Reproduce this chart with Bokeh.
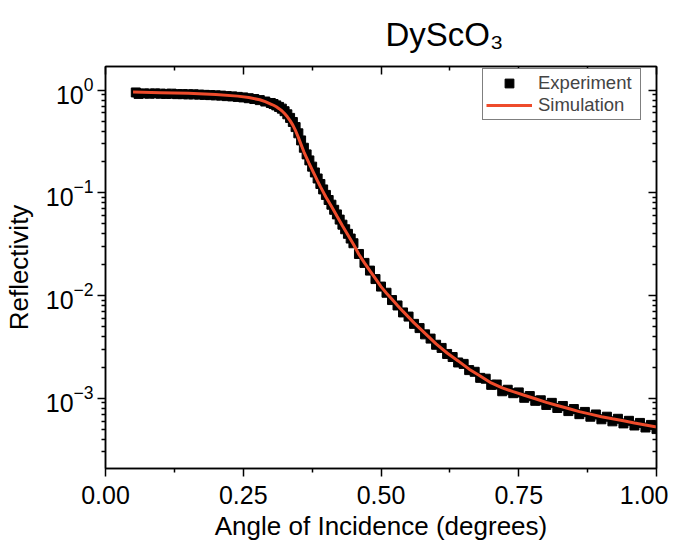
from bokeh.plotting import figure
from bokeh.models import (Range1d, LinearAxis, LogAxis, FixedTicker, NumeralTickFormatter,
                          CustomJSTickFormatter, Legend, LegendItem)
from bokeh.embed import file_html
from bokeh.resources import INLINE

# ---- data ----
title_text = "DyScO\u2083"

exp_angle = [0.055, 0.06, 0.07, 0.08, 0.09, 0.10, 0.11, 0.12, 0.13, 0.14, 0.15, 0.16, 0.17, 0.18,
             0.19, 0.20, 0.21, 0.22, 0.23, 0.24, 0.25, 0.26, 0.27, 0.28, 0.29,
             0.30, 0.305, 0.31, 0.315, 0.32, 0.325, 0.33, 0.335, 0.34, 0.345, 0.35, 0.355, 0.36,
             0.365, 0.37, 0.375, 0.38, 0.385, 0.39, 0.395, 0.40, 0.405, 0.41, 0.415, 0.42, 0.425,
             0.43, 0.435, 0.44, 0.445, 0.45,
             0.46, 0.47, 0.48, 0.49, 0.50, 0.51, 0.52, 0.53, 0.54, 0.55, 0.56, 0.57, 0.58, 0.59,
             0.60, 0.61, 0.62, 0.63, 0.64, 0.65, 0.66, 0.67, 0.68, 0.69, 0.70, 0.71, 0.72, 0.73,
             0.74, 0.75, 0.76, 0.77, 0.78, 0.79, 0.80, 0.81, 0.82, 0.83, 0.84, 0.85, 0.86, 0.87,
             0.88, 0.89, 0.90, 0.91, 0.92, 0.93, 0.94, 0.95, 0.96, 0.97, 0.98, 0.99, 1.00]
exp_reflectivity = [0.95, 0.92, 0.93, 0.925, 0.93, 0.925, 0.92, 0.925, 0.915, 0.915, 0.91, 0.91,
                    0.905, 0.90, 0.895, 0.89, 0.885, 0.875, 0.87, 0.86, 0.85, 0.835, 0.82, 0.80,
                    0.775,
                    0.750, 0.733, 0.711, 0.687, 0.661, 0.624, 0.582, 0.537, 0.490, 0.437, 0.380,
                    0.324, 0.275, 0.237, 0.207, 0.180, 0.158, 0.138, 0.122, 0.108, 0.0955, 0.0852,
                    0.0767, 0.0684, 0.0617, 0.0549, 0.0490, 0.0442, 0.0399, 0.0359, 0.0323,
                    0.0254, 0.0208, 0.0175, 0.01447, 0.01223, 0.01065, 0.00904, 0.00801, 0.00685,
                    0.00624, 0.00530, 0.00482, 0.00419, 0.00381, 0.00332, 0.00309, 0.00270,
                    0.00252, 0.00223, 0.00216, 0.00188, 0.00181, 0.00158, 0.00155,
                    0.00135, 0.00136, 0.00117, 0.00121, 0.00112, 0.00114, 0.00101, 0.00105,
                    0.000944, 0.000955, 0.000861, 0.000902, 0.000804, 0.000841, 0.000750,
                    0.000785, 0.000700, 0.000736, 0.000661, 0.000695, 0.000624, 0.000661,
                    0.000596, 0.000631, 0.000569, 0.000603, 0.000543, 0.000575, 0.000519,
                    0.000550, 0.000501]

sim_angle = [0.05, 0.10, 0.15, 0.20, 0.24, 0.26, 0.28, 0.29, 0.30, 0.305, 0.31, 0.315, 0.32,
             0.325, 0.33, 0.335, 0.34, 0.345, 0.35, 0.355, 0.36, 0.365, 0.37, 0.375, 0.38,
             0.385, 0.39, 0.40, 0.41, 0.42, 0.43, 0.44, 0.45, 0.46, 0.47, 0.48, 0.49, 0.50,
             0.51, 0.52, 0.53, 0.54, 0.55, 0.56, 0.57, 0.58, 0.59, 0.60, 0.62, 0.64, 0.66,
             0.68, 0.70, 0.72, 0.74, 0.76, 0.78, 0.80, 0.82, 0.84, 0.86, 0.88, 0.90, 0.92,
             0.94, 0.96, 0.98, 1.00]
sim_reflectivity = [0.959, 0.946, 0.933, 0.908, 0.875, 0.847, 0.807, 0.773, 0.733, 0.713, 0.689,
                    0.661, 0.631, 0.592, 0.550, 0.505, 0.457, 0.403, 0.347, 0.295, 0.251, 0.219,
                    0.191, 0.168, 0.148, 0.130, 0.115, 0.0912, 0.0742, 0.0596, 0.0479, 0.0389,
                    0.0316, 0.0251, 0.0208, 0.0174, 0.0146, 0.01223, 0.01052, 0.00919, 0.00801,
                    0.00701, 0.00617, 0.00542, 0.00482, 0.00428, 0.00381, 0.00339, 0.00276,
                    0.00231, 0.00192, 0.00165, 0.00141, 0.00126, 0.00116, 0.00107, 0.000989,
                    0.000912, 0.000851, 0.000794, 0.000741, 0.000700, 0.000661, 0.000631,
                    0.000603, 0.000575, 0.000550, 0.000525]

x_ticks = [0.0, 0.25, 0.5, 0.75, 1.0]
x_minor = [0.125, 0.375, 0.625, 0.875]
y_ticks = [1e-3, 1e-2, 1e-1, 1.0]
y_minor = [m * d for d in (1e-4, 1e-3, 1e-2, 1e-1) for m in range(2, 10)]

FONT = "Liberation Sans"
RED = "#EE4B2B"

p = figure(frame_width=551, frame_height=402, y_axis_type="log",
           x_range=Range1d(0, 1), y_range=Range1d(2.07e-4, 1.7),
           output_backend="svg", toolbar_location=None,
           min_border_left=90, min_border_right=12, min_border_top=66, min_border_bottom=71)
p.grid.visible = False
p.outline_line_color = "black"
p.outline_line_width = 1.5
p.background_fill_color = "white"
p.border_fill_color = "white"

p.title.text = title_text
p.title.align = "left"
p.title.offset = 280
p.title.standoff = 27
p.title.text_font = FONT
p.title.text_font_size = "33px"
p.title.text_font_style = "normal"
p.title.text_color = "black"

exp_r = p.scatter(exp_angle, exp_reflectivity, marker="square", size=9,
                  fill_color="black", line_color="black")
sim_r = p.line(sim_angle, sim_reflectivity, line_color=RED, line_width=3)

xa = p.xaxis[0]
xa.ticker = FixedTicker(ticks=x_ticks, minor_ticks=x_minor)
xa.formatter = NumeralTickFormatter(format="0.00")
xa.axis_label = "Angle of Incidence (degrees)"
ya = p.yaxis[0]
ya.ticker = FixedTicker(ticks=y_ticks, minor_ticks=y_minor)
ya.axis_label = "Reflectivity"

for ax in (xa, ya):
    ax.axis_line_width = 1.5
    ax.major_tick_line_width = 1.5
    ax.minor_tick_line_width = 1.5
    ax.major_tick_in = 0
    ax.major_tick_out = 8
    ax.minor_tick_in = 0
    ax.minor_tick_out = 4
    ax.major_label_text_font = FONT
    ax.major_label_text_font_size = "25px"
    ax.major_label_text_color = "black"
    ax.axis_label_text_font = FONT
    ax.axis_label_text_font_size = "26px"
    ax.axis_label_text_font_style = "normal"
    ax.axis_label_text_color = "black"
xa.major_label_standoff = 9
xa.axis_label_standoff = 4
ya.major_label_standoff = 4
ya.axis_label_standoff = 9

blank = CustomJSTickFormatter(code="return ''")
top = LinearAxis(ticker=FixedTicker(ticks=x_ticks, minor_ticks=x_minor), formatter=blank,
                 major_label_text_font_size="2px", major_label_standoff=0,
                 major_tick_in=8, major_tick_out=0, minor_tick_in=4, minor_tick_out=0,
                 axis_line_width=1.5, major_tick_line_width=1.5, minor_tick_line_width=1.5)
right = LogAxis(ticker=FixedTicker(ticks=y_ticks, minor_ticks=y_minor), formatter=blank,
                major_label_text_font_size="2px", major_label_standoff=0,
                major_tick_in=8, major_tick_out=0, minor_tick_in=4, minor_tick_out=0,
                axis_line_width=1.5, major_tick_line_width=1.5, minor_tick_line_width=1.5)
p.add_layout(top, "above")
p.add_layout(right, "right")

legend = Legend(items=[LegendItem(label="Experiment", renderers=[exp_r]),
                       LegendItem(label="Simulation", renderers=[sim_r])],
                location=(377, 348), border_line_color="black", border_line_width=1,
                label_text_font=FONT, label_text_font_size="18.5px",
                glyph_width=46, glyph_height=22, label_standoff=6, label_width=99,
                spacing=0, padding=3, margin=0, background_fill_alpha=1)
p.add_layout(legend)

open("out.html", "w").write(file_html(p, INLINE))
